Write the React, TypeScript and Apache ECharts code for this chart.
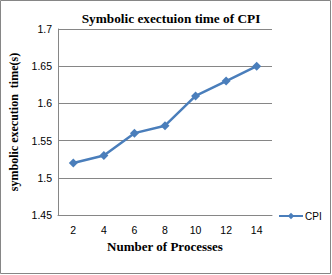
import React, { useEffect, useRef } from "react";
import * as echarts from "echarts";

const categories = ["2", "4", "6", "8", "10", "12", "14"];
const cpiValues = [1.52, 1.53, 1.56, 1.57, 1.61, 1.63, 1.65];
const yTicks = [1.45, 1.5, 1.55, 1.6, 1.65, 1.7];

export default function App() {
  const ref = useRef<HTMLDivElement>(null);
  useEffect(() => {
    if (!ref.current) return;
    const chart = echarts.init(ref.current, null, { renderer: "svg" });
    chart.setOption({
      animation: false,
      backgroundColor: "#ffffff",
      title: {
        text: "Symbolic exectuion time of CPI",
        left: 166,
        textAlign: "center",
        top: 7,
        textStyle: { fontFamily: "Liberation Serif", fontWeight: "bold", fontSize: 13.3, color: "#000" },
      },
      graphic: [
        {
          type: "rect",
          shape: { x: 0.5, y: 0.5, width: 330, height: 273 },
          style: { fill: "none", stroke: "#868686", lineWidth: 1 },
        },
      ],
      legend: {
        data: ["CPI"],
        left: 278,
        top: 211,
        padding: 0,
        itemWidth: 24,
        itemHeight: 8,
        itemGap: 2,
        textStyle: { fontFamily: "Liberation Sans", fontSize: 10, color: "#000", padding: [0, 0, 0, -3] },
      },
      grid: { left: 57, right: 60, top: 29, bottom: 60 },
      xAxis: {
        type: "category",
        data: categories,
        boundaryGap: true,
        name: "Number of Processes",
        nameLocation: "middle",
        nameGap: 24,
        nameTextStyle: { fontFamily: "Liberation Serif", fontWeight: "bold", fontSize: 13, color: "#000" },
        axisLine: { lineStyle: { color: "#868686" } },
        axisTick: { show: false },
        axisLabel: { fontFamily: "Liberation Sans", fontSize: 10.5, color: "#000", margin: 9 },
      },
      yAxis: {
        type: "value",
        min: 1.45,
        max: 1.7,
        interval: 0.05,
        name: "symbolic execution  time(s)",
        nameLocation: "middle",
        nameGap: 38,
        nameTextStyle: { fontFamily: "Liberation Serif", fontWeight: "bold", fontSize: 12, color: "#000" },
        axisLine: { show: true, lineStyle: { color: "#868686" } },
        axisTick: { show: false },
        axisLabel: {
          fontFamily: "Liberation Sans",
          fontSize: 10.5,
          color: "#000",
          margin: 6,
          formatter: (v: number) => {
            const t = yTicks.find((x) => Math.abs(x - v) < 1e-6);
            return String(parseFloat((t ?? v).toFixed(2)));
          },
        },
        splitLine: { lineStyle: { color: "#868686" } },
      },
      series: [
        {
          name: "CPI",
          type: "line",
          data: cpiValues,
          symbol: "diamond",
          symbolSize: 9,
          itemStyle: { color: "#4A7EBB" },
          lineStyle: { color: "#4A7EBB", width: 2.5 },
        },
      ],
    });
    return () => chart.dispose();
  }, []);
  return <div ref={ref} style={{ width: 332, height: 275, position: "absolute", left: 0, top: 0 }} />;
}
